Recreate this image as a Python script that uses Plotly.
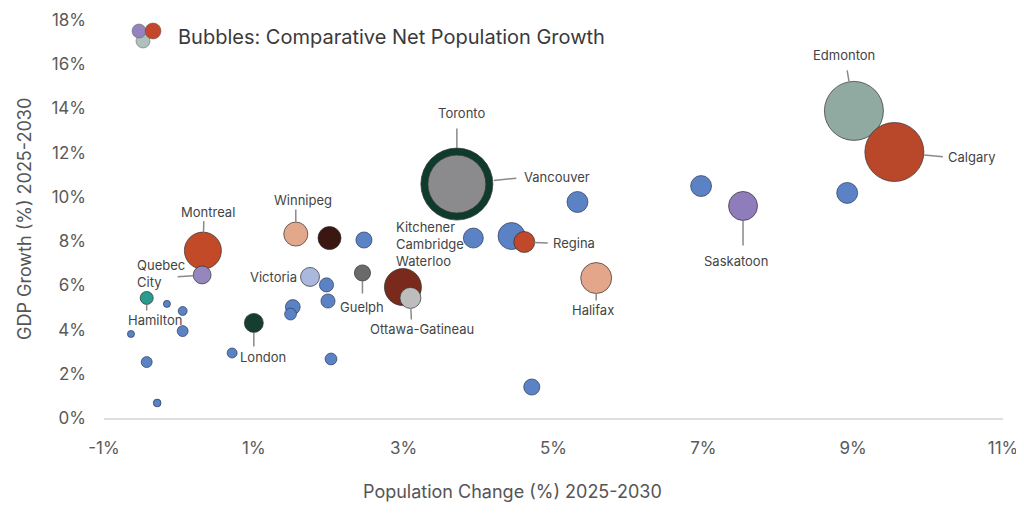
import plotly.graph_objects as go

# labelled metro areas: population change (%) vs GDP growth (%) 2025-2030,
# bubble = net population growth (thousands, approximate)
cities = ["Toronto", "Vancouver", "Edmonton", "Calgary", "Saskatoon", "Regina",
          "Halifax", "Kitchener-Cambridge-Waterloo", "Ottawa-Gatineau", "Guelph",
          None, "Winnipeg", "Victoria", "London", "Montreal", "Quebec City", "Hamilton"]
pop_change = [3.71, 3.71, 9.01, 9.55, 7.53, 4.61,
              5.57, 2.99, 3.09, 2.45,
              2.01, 1.56, 1.75, 1.00, 0.32, 0.31, -0.43]
gdp_growth = [10.58, 10.58, 13.89, 12.03, 9.59, 7.96,
              6.33, 5.92, 5.43, 6.56,
              8.14, 8.32, 6.38, 4.30, 7.57, 6.47, 5.43]
net_growth = [518, 336, 348, 348, 84, 44,
              96, 137, 44, 26,
              53, 58, 36, 36, 137, 32, 17]

# other metro areas (unlabelled, blue)
other_pop = [6.97, 8.92, 5.32, 4.44, 3.93, 4.71, 2.47, 1.97, 1.99, 1.52,
             1.49, 0.71, 2.03, -0.16, 0.05, 0.05, -0.64, -0.43, -0.29]
other_gdp = [10.49, 10.18, 9.77, 8.23, 8.14, 1.40, 8.05, 6.02, 5.29, 5.02,
             4.70, 2.94, 2.67, 5.16, 4.84, 3.93, 3.80, 2.53, 0.68]
other_growth = [44, 44, 44, 73, 40, 26, 26, 20, 20, 22,
                14, 10, 14, 5, 8, 12, 5, 12, 6]

x_tickvals = [-1, 1, 3, 5, 7, 9, 11]
x_ticktext = ["-1%", "1%", "3%", "5%", "7%", "9%", "11%"]

# styling
city_colors = ["#0f3b2c", "#8b8b8e", "#90aaa2", "#b9482b", "#8e7dba", "#c1482a",
               "#e3a68a", "#7a2a1c", "#bdbdbd", "#6a6a6a",
               "#3a1710", "#e2a88b", "#aab8de", "#163e2f", "#c24a28", "#9686c0", "#2a9b8e"]
blue = "#5a82c5"
SIZEREF = 0.2
FONT = "Inter"

# label placement in px relative to the bubble centre (y down):
# text shift, text anchor, leader tail offset and standoff (None = no leader)
labels = {
    "Toronto": dict(dx=5, dy=-71, anchor="center", tail=(0, -57), standoff=36),
    "Vancouver": dict(dx=65, dy=-7, anchor="left", tail=(61, -6), standoff=37),
    "Edmonton": dict(dx=-10, dy=-56, anchor="center", tail=(-7, -42), standoff=30),
    "Calgary": dict(dx=52, dy=5, anchor="left", tail=(50, 5), standoff=30),
    "Saskatoon": dict(dx=-7, dy=55, anchor="center", tail=(0, 41), standoff=15),
    "Regina": dict(dx=27, dy=1, anchor="left", tail=(25, 1), standoff=10),
    "Halifax": dict(dx=-3, dy=32, anchor="center", tail=(0, 24), standoff=15),
    "Kitchener-Cambridge-Waterloo": dict(text="Kitchener<br>Cambridge<br>Waterloo",
                                         dx=-9, dy=-43, anchor="left", tail=None),
    "Ottawa-Gatineau": dict(dx=12, dy=31, anchor="center", tail=(1, 23), standoff=10),
    "Guelph": dict(dx=0, dy=34, anchor="center", tail=(0, 22), standoff=8),
    "Winnipeg": dict(dx=7, dy=-34, anchor="center", tail=(0, -26), standoff=12),
    "Victoria": dict(dx=-11, dy=0, anchor="right", tail=None),
    "London": dict(dx=9, dy=34, anchor="center", tail=(0, 25), standoff=10),
    "Montreal": dict(dx=5, dy=-39, anchor="center", tail=(1, -31), standoff=18),
    "Quebec City": dict(text="Quebec<br>City", dx=-15, dy=-1, anchor="right",
                        tail=(-26, 2), standoff=9),
    "Hamilton": dict(dx=8, dy=22, anchor="center", tail=(0, 14), standoff=7),
}

fig = go.Figure()

fig.add_trace(go.Scatter(
    x=other_pop, y=other_gdp, mode="markers",
    marker=dict(size=other_growth, sizemode="area", sizeref=SIZEREF,
                color=blue, opacity=1,
                line=dict(color="rgba(40,50,80,0.65)", width=1)),
    hoverinfo="x+y", showlegend=False,
))

fig.add_trace(go.Scatter(
    x=pop_change, y=gdp_growth, mode="markers",
    text=[c or "" for c in cities],
    marker=dict(size=net_growth, sizemode="area", sizeref=SIZEREF,
                color=city_colors, opacity=1,
                line=dict(color="rgba(50,50,50,0.7)", width=1)),
    hoverinfo="text+x+y", showlegend=False,
))

lab_font = dict(family=FONT, size=13, color="#444444")
annotations = []
for name, xv, yv in zip(cities, pop_change, gdp_growth):
    if name not in labels:
        continue
    o = labels[name]
    if o["tail"] is not None:
        annotations.append(dict(x=xv, y=yv, text="", showarrow=True, arrowhead=0,
                                arrowwidth=1.5, arrowcolor="#8a8a8a",
                                ax=o["tail"][0], ay=o["tail"][1], standoff=o["standoff"]))
    annotations.append(dict(x=xv, y=yv, text=o.get("text", name), showarrow=False,
                            xanchor=o["anchor"], yanchor="middle", align="left",
                            xshift=o["dx"], yshift=-o["dy"], font=lab_font))

# axis titles and bubble key
annotations.append(dict(xref="paper", yref="paper", x=0.454, y=0, yshift=-73,
                        xanchor="center", yanchor="middle",
                        text="Population Change (%) 2025-2030", showarrow=False,
                        font=dict(family=FONT, size=18, color="#555555")))
annotations.append(dict(xref="paper", yref="paper", x=0, y=0.5, xshift=-80,
                        xanchor="center", yanchor="middle",
                        text="GDP Growth (%) 2025-2030", textangle=-90, showarrow=False,
                        font=dict(family=FONT, size=18, color="#555555")))
annotations.append(dict(xref="paper", yref="paper", x=0, y=1, xshift=72, yshift=-17,
                        xanchor="left", yanchor="middle", showarrow=False,
                        text="Bubbles: Comparative Net Population Growth",
                        font=dict(family=FONT, size=20, color="#3a3a3a")))

key_circles = [(39, -21, 7, "#aec1bd"), (35, -11, 7, "#9583c0"), (49, -11, 8, "#c4462b")]
shapes = [dict(type="circle", xref="paper", yref="paper", xsizemode="pixel",
               ysizemode="pixel", xanchor=0, yanchor=1,
               x0=cx - r, x1=cx + r, y0=cy - r, y1=cy + r,
               fillcolor=col, line=dict(color="rgba(90,90,90,0.5)", width=1))
          for cx, cy, r, col in key_circles]

# the page body adds an 8px margin, so the figure is 8px smaller than the window
fig.update_layout(
    width=1016, height=512,
    margin=dict(l=96, r=21, t=12, b=102),
    paper_bgcolor="white", plot_bgcolor="white",
    font=dict(family=FONT, color="#555555"),
    annotations=annotations, shapes=shapes,
    xaxis=dict(range=[-1, 11], tickmode="array", tickvals=x_tickvals, ticktext=x_ticktext,
               showgrid=False, zeroline=False, showline=True,
               linecolor="#dedede", linewidth=2, ticks="",
               ticklabelstandoff=14, automargin=False,
               tickfont=dict(family=FONT, size=17, color="#5a5a5a")),
    yaxis=dict(range=[0, 18], tickmode="linear", tick0=0, dtick=2, ticksuffix="%",
               showgrid=False, zeroline=False, showline=False, ticks="",
               ticklabelstandoff=17, automargin=False,
               tickfont=dict(family=FONT, size=17, color="#5a5a5a")),
)

fig.write_html("out.html")
